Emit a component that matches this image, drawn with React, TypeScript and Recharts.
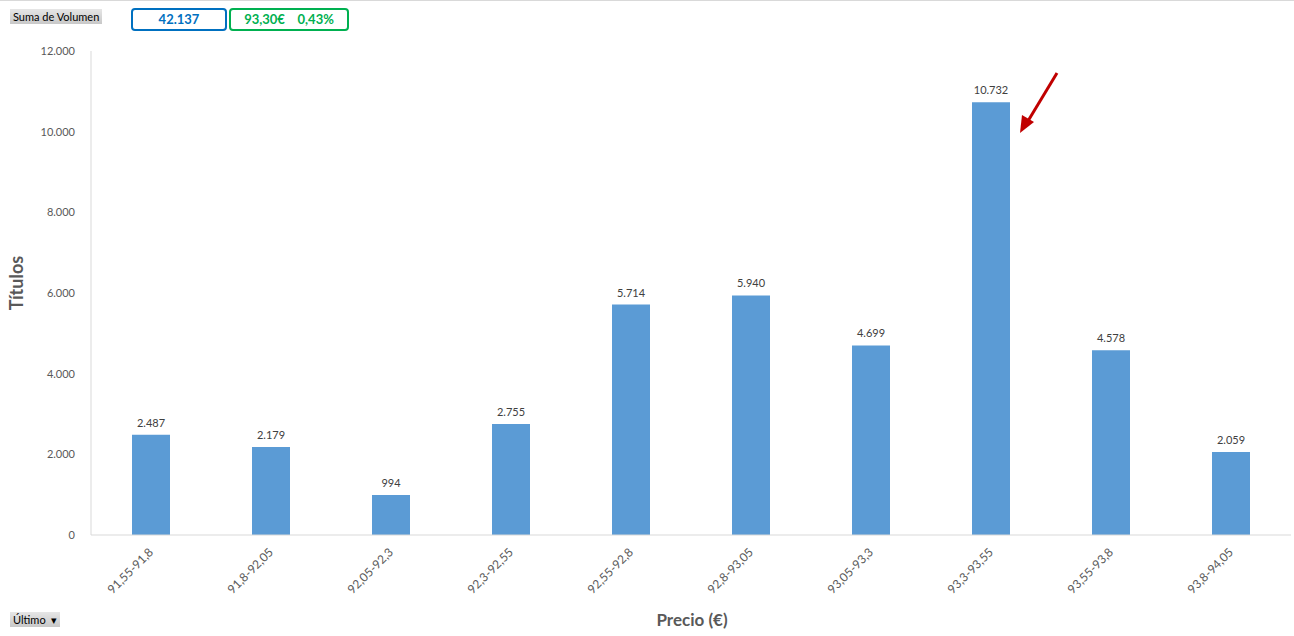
import React from 'react';
import { BarChart, Bar, XAxis, YAxis, LabelList } from 'recharts';

const rangos = [
  '91,55-91,8', '91,8-92,05', '92,05-92,3', '92,3-92,55', '92,55-92,8',
  '92,8-93,05', '93,05-93,3', '93,3-93,55', '93,55-93,8', '93,8-94,05',
];
const volumen = [2487, 2179, 994, 2755, 5714, 5940, 4699, 10732, 4578, 2059];
const yTicks = [0, 2000, 4000, 6000, 8000, 10000, 12000];

const data = rangos.map((r, i) => ({ rango: r, volumen: volumen[i] }));

const fmt = (v: number) => v.toLocaleString('de-DE');
const FONT = 'Lato, "Open Sans", sans-serif';

const XTick = (props: any) => {
  const { x, y, payload } = props;
  return (
    <g transform={`translate(${x + 3},${y + 10})`}>
      <text textAnchor="end" transform="rotate(-45)" fontSize={12} fill="#595959" fontFamily={FONT}>
        {payload.value}
      </text>
    </g>
  );
};

const btn: React.CSSProperties = {
  position: 'absolute', background: 'linear-gradient(#e6e6e6,#c8c8c8)', fontSize: 11,
  fontFamily: FONT, color: '#000', padding: '1px 3px', lineHeight: '13px',
};

export default function App() {
  return (
    <div style={{ position: 'fixed', left: 0, top: 0, width: 1294, height: 636, background: '#fff', fontFamily: FONT }}>
      <div style={{ position: 'absolute', left: 0, top: 0, width: 1294, height: 1, background: '#d9d9d9' }} />
      <BarChart width={1294} height={636} data={data} margin={{ top: 51, right: 3, bottom: 40, left: 0 }} barCategoryGap={41}>
        <YAxis
          width={91}
          domain={[0, 12000]}
          ticks={yTicks}
          tickFormatter={fmt}
          axisLine={{ stroke: '#d9d9d9' }}
          tickLine={false}
          tickMargin={10}
          tick={{ fontSize: 11, fill: '#595959', fontFamily: FONT }}
        />
        <XAxis
          dataKey="rango"
          height={61}
          axisLine={{ stroke: '#d9d9d9' }}
          tickLine={false}
          interval={0}
          tick={<XTick />}
        />
        <Bar dataKey="volumen" fill="#5b9bd5" isAnimationActive={false}>
          <LabelList dataKey="volumen" position="top" offset={8} formatter={(v: any) => fmt(Number(v))} style={{ fontSize: 11, fill: '#404040', fontFamily: FONT }} />
        </Bar>
      </BarChart>
      <div style={{ position: 'absolute', left: 600, top: 609, width: 184, textAlign: 'center', fontSize: 17, fontWeight: 700, color: '#595959' }}>
        Precio (€)
      </div>
      <div style={{ ...btn, left: 10, top: 9 }}>Suma de Volumen</div>
      <div style={{ ...btn, left: 10, top: 612 }}>Último&nbsp;&nbsp;▾</div>
      <div style={{ position: 'absolute', left: 131, top: 8, width: 92, height: 19, border: '2px solid #0070c0', borderRadius: 4, color: '#0070c0', fontWeight: 700, fontSize: 13, textAlign: 'center', lineHeight: '19px' }}>
        42.137
      </div>
      <div style={{ position: 'absolute', left: 229, top: 8, width: 116, height: 19, border: '2px solid #00b050', borderRadius: 4, color: '#00b050', fontWeight: 700, fontSize: 13, textAlign: 'center', lineHeight: '19px', whiteSpace: 'pre' }}>
        {'93,30€    0,43%'}
      </div>
      <svg style={{ position: 'absolute', left: 0, top: 0 }} width={1294} height={636}>
        <text x={0} y={0} transform="translate(23,283) rotate(-90)" textAnchor="middle" fontSize={18} fontWeight={700} fill="#595959" fontFamily={FONT}>
          Títulos
        </text>
        <line x1={1057} y1={73} x2={1028} y2={121} stroke="#c00000" strokeWidth={3} />
        <polygon points="1020,133 1022,115 1034,122" fill="#c00000" />
      </svg>
    </div>
  );
}
